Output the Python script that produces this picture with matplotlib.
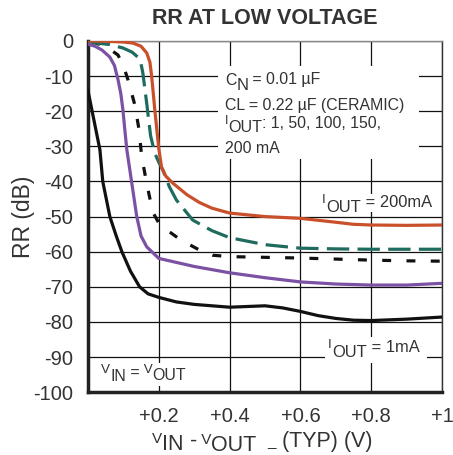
import matplotlib
matplotlib.use("Agg")
import matplotlib.pyplot as plt
from matplotlib.patches import Rectangle
from matplotlib.transforms import Bbox, IdentityTransform

plt.rcParams['font.family'] = ['Liberation Sans', 'DejaVu Sans']

# data (x in V, y in dB)
x_1ma = [0.0, 0.02, 0.034, 0.042, 0.062, 0.08, 0.096, 0.12, 0.146, 0.17, 0.2, 0.25, 0.3, 0.4, 0.5, 0.55, 0.6, 0.65, 0.7, 0.75, 0.8, 0.9, 1.0]
y_1ma = [-14, -24, -31, -40, -50, -55.5, -60, -65.5, -70, -72, -73, -74.3, -75, -75.8, -75.4, -76, -77, -78.2, -79, -79.5, -79.6, -79.2, -78.6]

x_50ma = [0.0, 0.02, 0.04, 0.062, 0.075, 0.085, 0.093, 0.099, 0.104, 0.11, 0.124, 0.138, 0.15, 0.166, 0.2, 0.3, 0.4, 0.5, 0.6, 0.7, 0.8, 0.9, 1.0]
y_50ma = [-0.9, -1.5, -2.6, -4.6, -7, -11, -15, -19.7, -25, -31, -40.5, -50, -55.5, -58.6, -61.9, -64.2, -66, -67.4, -68.6, -69.2, -69.5, -69.5, -69]

x_100ma = [0.01, 0.05, 0.085, 0.1, 0.113, 0.132, 0.144, 0.152, 0.166, 0.183, 0.2, 0.231, 0.26, 0.287, 0.32, 0.352, 0.4, 0.5, 0.6, 0.7, 0.8, 0.9, 1.0]
y_100ma = [-0.2, -1.5, -4, -7, -11, -18, -25, -33, -40.5, -48.7, -51.8, -54.4, -56.5, -58, -59.8, -61, -61.4, -61.6, -61.8, -62.1, -62.4, -62.6, -62.7]

x_150ma = [0.0, 0.025, 0.06, 0.099, 0.125, 0.141, 0.15, 0.155, 0.166, 0.177, 0.189, 0.2, 0.212, 0.23, 0.25, 0.296, 0.35, 0.4, 0.5, 0.6, 0.7, 0.8, 0.9, 1.0]
y_150ma = [0.0, -0.6, -1.0, -2, -3.2, -4.6, -6.5, -9, -17.7, -27, -32, -34.5, -36.8, -41.5, -45.3, -51, -54, -56, -58, -59, -59.2, -59.3, -59.3, -59.3]

x_200ma = [0.0, 0.05, 0.1, 0.127, 0.15, 0.166, 0.175, 0.18, 0.189, 0.2, 0.208, 0.22, 0.24, 0.28, 0.315, 0.35, 0.4, 0.5, 0.6, 0.69, 0.75, 0.8, 0.9, 1.0]
y_200ma = [0.0, -0.1, -0.3, -0.6, -1.5, -3.4, -6, -10, -19.7, -30.5, -36, -38.5, -40.5, -43.8, -46, -47.6, -49, -50, -50.5, -51.5, -52.2, -52.4, -52.5, -52.4]

xticks = [0.2, 0.4, 0.6, 0.8, 1.0]
xtick_labels = ['+0.2', '+0.4', '+0.6', '+0.8', '+1']
yticks = [0, -10, -20, -30, -40, -50, -60, -70, -80, -90, -100]
ytick_labels = ['0', '-10', '-20', '-30', '-40', '-50', '-60', '-70', '-80', '-90', '-100']

txt = '#333333'
fig = plt.figure(figsize=(4.53, 4.55), dpi=100)
ax = fig.add_axes([0.194, 0.138, 0.782, 0.772])

lw = 2.3
ax.plot(x_1ma, y_1ma, color='#111111', lw=lw, zorder=4)
ax.plot(x_50ma, y_50ma, color='#7b52a3', lw=lw, zorder=4)
ax.plot(x_100ma, y_100ma, color='#111111', lw=lw, dashes=(2.8, 4.8), zorder=4)
ax.plot(x_150ma, y_150ma, color='#1f6b5e', lw=lw, dashes=(7, 2.6), zorder=4)
ax.plot(x_200ma, y_200ma, color='#c9502b', lw=lw, zorder=4)

ax.set_xlim(0, 1)
ax.set_ylim(-100, 0)
ax.set_xticks(xticks)
ax.set_xticklabels(xtick_labels)
ax.set_yticks(yticks)
ax.set_yticklabels(ytick_labels)
ax.tick_params(length=0, labelsize=14.5, labelcolor=txt)
ax.tick_params(axis='y', pad=10.5)
ax.tick_params(axis='x', pad=11)
ax.grid(True, color='#111111', lw=0.9)
ax.set_axisbelow(True)

for s in ['left', 'bottom']:
    ax.spines[s].set_linewidth(2.5)
    ax.spines[s].set_color('#222222')
ax.spines['top'].set_linewidth(1.0)
ax.spines['top'].set_color('#888888')
ax.spines['right'].set_linewidth(1.0)
ax.spines['right'].set_color('#333333')

ax.set_title('RR AT LOW VOLTAGE', fontsize=15.5, fontweight='bold', color=txt, pad=12)
ax.set_ylabel('RR (dB)', fontsize=16.5, color=txt)
ax.yaxis.set_label_coords(-0.15, 0.5)


def piece_label(x, y, parts, coords='data'):
    """Datasheet style label: parts are (text, size, rise in pt, dx in pt),
    each piece is placed right after the previous one."""
    pieces = []
    prev = None
    for text, size, rise, dx in parts:
        if prev is None:
            t = ax.annotate(text, (x, y), xycoords=coords, xytext=(dx, rise),
                            textcoords='offset points', fontsize=size, color=txt,
                            ha='left', va='baseline', zorder=5, annotation_clip=False)
        else:
            # anchor is the bottom of the previous piece (baseline - descent)
            t = ax.annotate(text, (1, 0), xycoords=prev,
                            xytext=(dx, rise - prev_rise + 0.21 * prev_size),
                            textcoords='offset points', fontsize=size, color=txt,
                            ha='left', va='baseline', zorder=5, annotation_clip=False)
        pieces.append(t)
        prev, prev_rise, prev_size = t, rise, size
    return pieces


def white_box(pieces, left, right, bottom, top):
    # white cut-out behind a label so the grid does not run through it
    fig.canvas.draw()
    r = fig.canvas.get_renderer()
    bb = Bbox.union([p.get_window_extent(r) for p in pieces])
    ax.add_patch(Rectangle((bb.x0 - left, bb.y0 - bottom),
                           bb.width + left + right, bb.height + bottom + top,
                           transform=IdentityTransform(), facecolor='white',
                           edgecolor='none', zorder=3))


note = []
note += piece_label(0.387, -12.5, [('C', 11.4, 0, 0), ('N', 12, -3.8, 0),
                                   (' = 0.01 \u00b5F', 11.4, 0, 0)])
note += piece_label(0.387, -19.7, [('CL = 0.22 \u00b5F (CERAMIC)', 11.4, 0, 0)])
note += piece_label(0.387, -24.8, [('I', 9, 2.9, 0), ('OUT', 11.6, -2.7, 0),
                                   (': 1, 50, 100, 150,', 11.4, 0, 0)])
note += piece_label(0.387, -31.9, [('200 mA', 11.4, 0, 0)])

lab_200 = piece_label(0.661, -47.3, [('I', 9.5, 2.6, 0), ('OUT', 11.9, -3.5, 0),
                                     (' = 200mA', 11.9, 0, 0)])
lab_1 = piece_label(0.678, -88.5, [('I', 9.5, 2.6, 0), ('OUT', 11.9, -3.5, 0),
                                   (' = 1mA', 11.9, 0, 0)])
lab_vin = piece_label(0.038, -95.8, [('V', 9.7, 3.0, 0), ('IN', 11.4, -2.2, 0),
                                     (' =', 11.4, 0, 0), (' V', 9.7, 3.0, 0),
                                     ('OUT', 11.4, -2.2, 0)])

# x axis label built the same way (figure pixels)
piece_label(152, 8.5, [('V', 11, 2.6, 0), ('IN', 15.5, -2.6, 0), (' -', 15.5, 0, 0),
                       (' V', 11, 2.6, 0), ('OUT', 15.5, -2.6, 0), ('_', 11, 1.0, 8),
                       (' (TYP) (V)', 15.5, 0, 0)], coords='figure pixels')

white_box(note, 7, 15, 3, 6)
white_box(lab_200, 2, 3, -3, 0)
white_box(lab_1, 3, 8, 3, 2)
white_box(lab_vin, 2, 3, 2, 1)

fig.savefig('out.png', dpi=100)
